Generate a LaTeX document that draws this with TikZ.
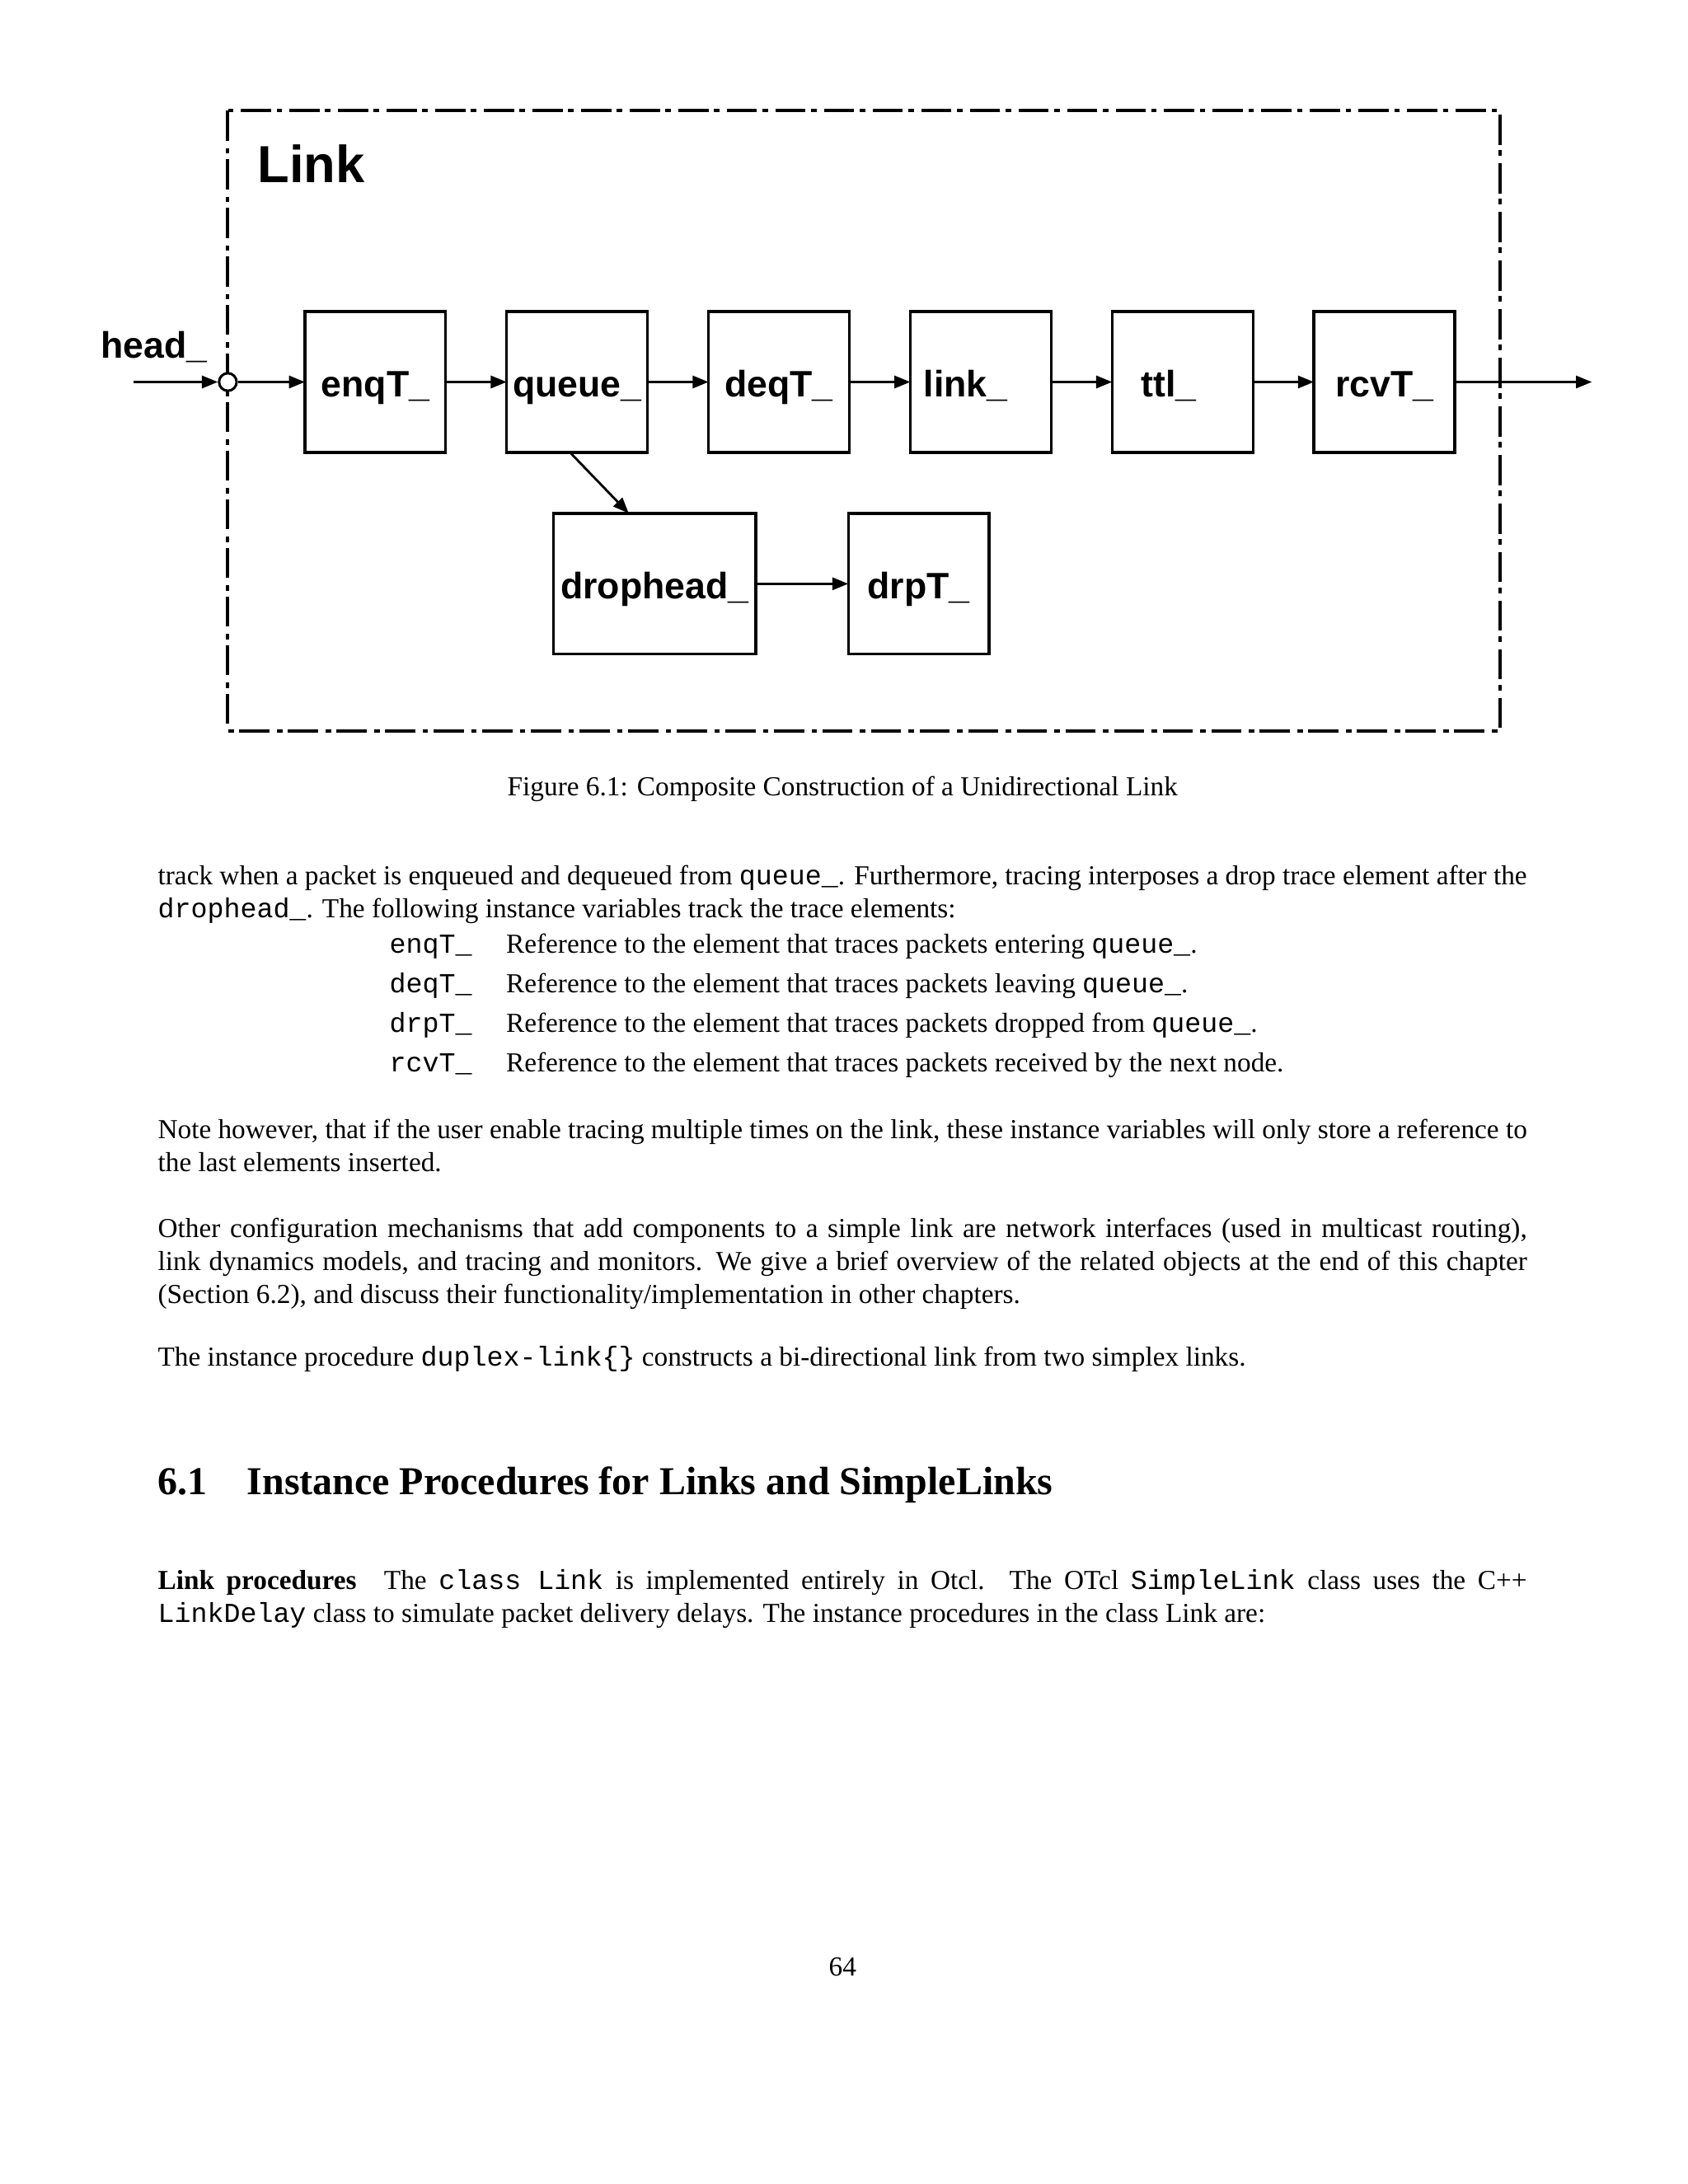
\documentclass[tikz,border=0pt]{standalone}
\usepackage{fontspec}
\setmainfont{Liberation Serif}
\setmonofont{Liberation Mono}
\newfontfamily\figfont{Liberation Sans}
\usetikzlibrary{arrows.meta,positioning}

\begin{document}
\begin{tikzpicture}[
  x=0.0070132in, y=-0.0070132in,
  node distance=22.2pt,
  elem/.style={draw, line width=1pt, minimum width=51.3pt, minimum height=51.3pt,
    inner sep=1pt, outer sep=0pt, text height=11pt, text depth=0pt,
    font=\figfont\bfseries\fontsize{13.4}{16}\selectfont},
  port/.style={circle, draw, fill=white, line width=0.9pt,
    minimum size=6.4pt, inner sep=0pt},
  flow/.style={-{Triangle[length=5.8pt,width=4.5pt]}, line width=0.85pt},
  frame/.style={line width=1.2pt, dash pattern=on 11pt off 2.7pt on 2pt off 2pt},
  figlabel/.style={inner sep=0pt, font=\figfont\bfseries\fontsize{13.4}{16}\selectfont},
  body/.style={anchor=base west, inner sep=0pt, font=\fontsize{10}{12}\selectfont},
  para/.style={body, text width=6.9in, align=justify}
]
\fill[white] (0,0) rectangle (1212,1568.3);

% the link object
\draw[frame] (163.6,79.3) rectangle (1077.1,524.7);
\node[figlabel, anchor=base west, font=\figfont\bfseries\fontsize{19}{22}\selectfont]
  (linktitle) at (184.6,131) {Link};

\node[elem] (enqT) at (269.5,274.3) {enqT\_};
\node[elem, right=of enqT] (queue) {queue\_};
\node[elem, right=of queue] (deqT) {deqT\_};
\node[elem, right=of deqT] (link) {link\_\hspace*{11pt}};
\node[elem, right=of link] (ttl) {ttl\_\hspace*{10pt}};
\node[elem, right=of ttl] (rcvT) {rcvT\_};
\node[elem, minimum width=73.7pt] (drophead) at (470,419.2) {drophead\_};
\node[elem, right=33.7pt of drophead] (drpT) {drpT\_};

\node[port] (head) at (163.6,274.3) {};
\node[figlabel, anchor=base east] (headlabel) at (149,257) {head\_};
\coordinate (in) at (96,274.3);
\coordinate (out) at (1143,274.3);

\draw[flow] (in) -- (head);
\draw[flow] (head) -- (enqT);
\draw[flow] (enqT) -- (queue);
\draw[flow] (queue) -- (deqT);
\draw[flow] (deqT) -- (link);
\draw[flow] (link) -- (ttl);
\draw[flow] (ttl) -- (rcvT);
\draw[flow] (rcvT) -- (out);
\draw[flow] ([xshift=-2.6pt]queue.south) -- ([xshift=-9.4pt]drophead.north);
\draw[flow] (drophead) -- (drpT);

\node[body, anchor=base] (caption) at (605,571.5)
  {Figure 6.1: Composite Construction of a Unidirectional Link};

% page text
\node[para] (trace) at (113,635.2) {track when a packet is enqueued and dequeued
  from \texttt{queue\_}. Furthermore, tracing interposes a drop trace element after
  the \texttt{drophead\_}. The following instance variables track the trace elements:};

\foreach \var/\what [count=\i from 0] in {
    enqT/{entering \texttt{queue\_}.},
    deqT/{leaving \texttt{queue\_}.},
    drpT/{dropped from \texttt{queue\_}.},
    rcvT/{received by the next node.}} {
  \node[body] (var-\var) at (279.3,{684.5+28.3*\i}) {\texttt{\var\_}};
  \node[body] (desc-\var) at (363,{684.5+28.3*\i})
    {Reference to the element that traces packets \what};
}

\node[para] (note) at (113,817.7) {Note however, that if the user enable tracing
  multiple times on the link, these instance variables will only store a reference
  to the last elements inserted.};
\node[para] (other) at (113,888.7) {Other configuration mechanisms that add components
  to a simple link are network interfaces (used in multicast routing),\linebreak
  link dynamics models, and tracing and monitors.  We give a brief overview of the
  related objects at the end of this chapter\linebreak (Section 6.2), and discuss
  their functionality/implementation in other chapters.};
\node[para] (duplex) at (113,981) {The instance procedure \texttt{duplex-link\{\}}
  constructs a bi-directional link from two simplex links.};

\node[body, font=\bfseries\fontsize{14.4}{17}\selectfont] (secnum) at (113,1073.1) {6.1};
\node[body, font=\bfseries\fontsize{14.4}{17}\selectfont] (sectitle) at (177,1073.1)
  {Instance Procedures for Links and SimpleLinks};

\node[para] (procs) at (113,1141.2) {\textbf{Link procedures}\quad The
  \texttt{class Link} is implemented entirely in Otcl.  The OTcl \texttt{SimpleLink}
  class uses the C++ \texttt{LinkDelay} class to simulate packet delivery delays.
  The instance procedures in the class Link are:};

\node[body, anchor=base] (pagenum) at (605,1419) {64};
\end{tikzpicture}
\end{document}
